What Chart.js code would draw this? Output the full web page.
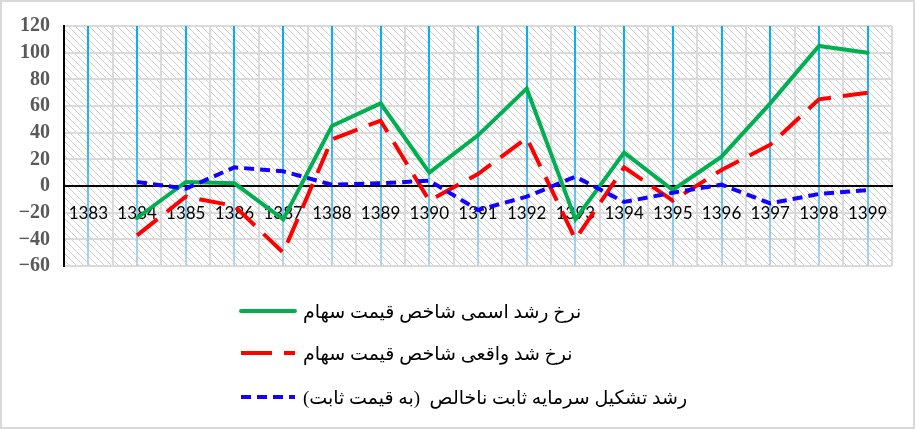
<!DOCTYPE html>
<html><head><meta charset="utf-8">
<script src="https://cdn.jsdelivr.net/npm/chart.js@4.4.1/dist/chart.umd.min.js"></script>
<style>html,body{margin:0;padding:0;background:#fff}</style>
</head><body>
<canvas id="c" width="916" height="429"></canvas>
<script>
// ---- data ----
const years = ['1383','1384','1385','1386','1387','1388','1389','1390','1391','1392','1393','1394','1395','1396','1397','1398','1399'];
const nominalGrowth = [null,-24,3,2,-25,45,62,10,38,73,-25,25,-3,22,62,105,100];
const realGrowth    = [null,-37,-8,-15,-50,35,49,-11,9,36,-40,14,-11,12,31,65,70];
const gfcfGrowth    = [null,3,-2,14,11,1,2,4,-18,-8,7,-12,-5,1,-13,-6,-3];
const seriesLabels = [
  'نرخ رشد اسمی شاخص قیمت سهام',
  'نرخ شد واقعی شاخص قیمت سهام',
  'رشد تشکیل سرمایه ثابت ناخالص  (به قیمت ثابت)'
];
const yMin = -60, yMax = 120, yStep = 20;

// ---- hatch pattern ----
function makePattern(ctx){
  const s = 7, t = document.createElement('canvas');
  t.width = s; t.height = s;
  const g = t.getContext('2d');
  g.fillStyle = '#ffffff'; g.fillRect(0,0,s,s);
  g.fillStyle = '#cfcfcf';
  for (let i = 0; i < s; i++) g.fillRect(i, i, 1, 1);
  return ctx.createPattern(t, 'repeat');
}

const bgPlugin = {
  id: 'bg',
  beforeDraw(chart){
    const {ctx, chartArea: a} = chart;
    ctx.save();
    ctx.fillStyle = '#fff';
    ctx.fillRect(0,0,chart.width,chart.height);
    ctx.fillStyle = makePattern(ctx);
    ctx.fillRect(a.left, a.top, a.right - a.left, a.bottom - a.top);
    ctx.restore();
  }
};

const legendPlugin = {
  id: 'customLegend',
  afterDraw(chart){
    const ctx = chart.ctx;
    ctx.save();
    const rows = [311, 353, 397];
    chart.data.datasets.forEach((ds, i) => {
      const y = rows[i];
      ctx.beginPath();
      ctx.strokeStyle = ds.borderColor;
      ctx.lineWidth = ds.borderWidth;
      ctx.lineCap = ds.borderCapStyle || 'butt';
      ctx.setLineDash(ds.legendDash || []);
      ctx.moveTo(241, y); ctx.lineTo(295, y);
      ctx.stroke();
      ctx.setLineDash([]);
      ctx.fillStyle = '#000';
      ctx.font = '19px "Liberation Serif", "DejaVu Sans", serif';
      ctx.direction = 'rtl';
      ctx.textAlign = 'left';
      ctx.textBaseline = 'middle';
      ctx.fillText(ds.label, 303, y + 2);
    });
    // outer frame
    ctx.strokeStyle = '#d9d9d9';
    ctx.lineWidth = 2;
    ctx.strokeRect(1, 1, chart.width - 3, chart.height - 2);
    ctx.restore();
  }
};

const ctx = document.getElementById('c').getContext('2d');
new Chart(ctx, {
  type: 'line',
  data: {
    labels: years,
    datasets: [
      { label: seriesLabels[0], data: nominalGrowth, borderColor: '#00b050', borderWidth: 4,
        pointRadius: 0, tension: 0, order: 3, borderCapStyle: 'round', borderJoinStyle: 'miter' },
      { label: seriesLabels[1], data: realGrowth, borderColor: '#ff0000', borderWidth: 4,
        borderDash: [26, 12], legendDash: [31, 12], pointRadius: 0, tension: 0, order: 2, borderCapStyle: 'butt' },
      { label: seriesLabels[2], data: gfcfGrowth, borderColor: '#1400ff', borderWidth: 4,
        borderDash: [10, 6], legendDash: [10, 6], pointRadius: 0, tension: 0, order: 1, borderCapStyle: 'butt' }
    ]
  },
  options: {
    responsive: false,
    animation: false,
    devicePixelRatio: 1,
    layout: { padding: { left: 0, top: 24, right: 24, bottom: 163 } },
    plugins: { legend: { display: false }, tooltip: { enabled: false } },
    scales: {
      x: {
        position: { y: 0 },
        offset: true,
        grid: { offset: true, color: '#dadada', lineWidth: 2, drawTicks: false },
        border: { color: '#000', width: 2 },
        ticks: { color: '#000', font: { family: 'Lato, "Open Sans", sans-serif', size: 17 },
                 padding: 17, autoSkip: false, maxRotation: 0 }
      },
      x2: {
        type: 'category',
        labels: years,
        position: { y: 0 },
        offset: true,
        grid: {
          offset: false, lineWidth: 2, drawTicks: false, z: -0.5,
          color: (c) => {
            const a = c.chart.chartArea;
            if (!a) return '#00b0f0';
            const g = c.chart.ctx.createLinearGradient(0, a.top, 0, a.bottom);
            g.addColorStop(0, '#00b0f0');
            g.addColorStop(0.5, '#30b8f0');
            g.addColorStop(1, '#b8d5ef');
            return g;
          }
        },
        border: { display: false },
        ticks: { display: false }
      },
      y: {
        min: yMin, max: yMax,
        afterFit: (s) => { s.width = 64; },
        grid: { color: '#dadada', lineWidth: 2, drawTicks: false },
        border: { color: '#000', width: 2 },
        ticks: {
          stepSize: yStep, padding: 14, color: '#595959', autoSkip: false,
          font: { family: '"Liberation Serif", serif', size: 20, weight: 'bold' },
          callback: (v) => (v < 0 ? '\u2212' + Math.abs(v) : String(v))
        }
      }
    }
  },
  plugins: [bgPlugin, legendPlugin]
});
</script>
</body></html>
